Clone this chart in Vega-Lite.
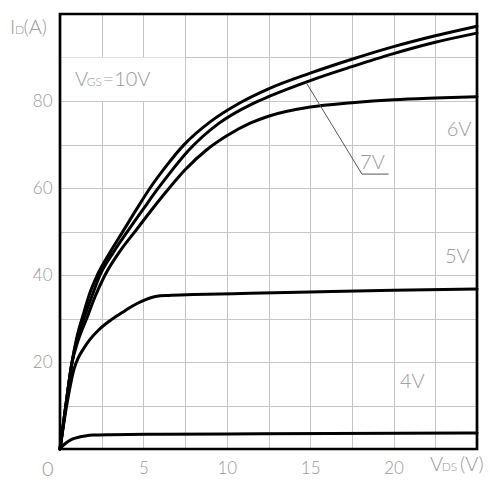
{
  "$schema": "https://vega.github.io/schema/vega-lite/v6.json",
  "width": 417,
  "height": 435,
  "autosize": {"type": "none"},
  "padding": {"left": 60, "top": 14, "right": 23, "bottom": 32},
  "background": "white",
  "config": {"view": {"stroke": null}},
  "datasets": {
    "curves": [
      {"g": "10V", "vds": 0, "id": 0}, {"g": "10V", "vds": 0.35, "id": 10}, {"g": "10V", "vds": 0.7, "id": 19.5}, {"g": "10V", "vds": 1.0, "id": 25.5}, {"g": "10V", "vds": 1.4, "id": 31}, {"g": "10V", "vds": 1.8, "id": 36}, {"g": "10V", "vds": 2.24, "id": 40}, {"g": "10V", "vds": 3.0, "id": 45.2}, {"g": "10V", "vds": 3.8, "id": 50.2}, {"g": "10V", "vds": 4.6, "id": 55.2}, {"g": "10V", "vds": 5.4, "id": 60}, {"g": "10V", "vds": 6.4, "id": 65.2}, {"g": "10V", "vds": 7.4, "id": 69.8}, {"g": "10V", "vds": 9.0, "id": 75.2}, {"g": "10V", "vds": 10.8, "id": 79.6}, {"g": "10V", "vds": 12.5, "id": 82.8}, {"g": "10V", "vds": 15, "id": 86.4}, {"g": "10V", "vds": 17.5, "id": 89.6}, {"g": "10V", "vds": 20, "id": 92.5}, {"g": "10V", "vds": 22.5, "id": 95.0}, {"g": "10V", "vds": 25, "id": 97.2},
      {"g": "7V", "vds": 0, "id": 0}, {"g": "7V", "vds": 0.35, "id": 10}, {"g": "7V", "vds": 0.7, "id": 19.5}, {"g": "7V", "vds": 1.0, "id": 25}, {"g": "7V", "vds": 1.5, "id": 30.8}, {"g": "7V", "vds": 1.9, "id": 35}, {"g": "7V", "vds": 2.4, "id": 40}, {"g": "7V", "vds": 3.2, "id": 45.2}, {"g": "7V", "vds": 4.1, "id": 50.3}, {"g": "7V", "vds": 5.0, "id": 55.2}, {"g": "7V", "vds": 5.8, "id": 59.5}, {"g": "7V", "vds": 6.7, "id": 64}, {"g": "7V", "vds": 7.7, "id": 68.6}, {"g": "7V", "vds": 9.5, "id": 74.8}, {"g": "7V", "vds": 11.5, "id": 79.3}, {"g": "7V", "vds": 12.5, "id": 81.0}, {"g": "7V", "vds": 15, "id": 84.7}, {"g": "7V", "vds": 17.5, "id": 87.9}, {"g": "7V", "vds": 20, "id": 90.9}, {"g": "7V", "vds": 22.5, "id": 93.5}, {"g": "7V", "vds": 25, "id": 95.6},
      {"g": "6V", "vds": 0, "id": 0}, {"g": "6V", "vds": 0.35, "id": 10}, {"g": "6V", "vds": 0.7, "id": 19.5}, {"g": "6V", "vds": 1.05, "id": 24.5}, {"g": "6V", "vds": 1.6, "id": 30}, {"g": "6V", "vds": 2.1, "id": 35}, {"g": "6V", "vds": 2.7, "id": 40}, {"g": "6V", "vds": 3.6, "id": 45.5}, {"g": "6V", "vds": 4.6, "id": 50.5}, {"g": "6V", "vds": 5.5, "id": 55}, {"g": "6V", "vds": 6.4, "id": 59.3}, {"g": "6V", "vds": 7.5, "id": 64.2}, {"g": "6V", "vds": 8.8, "id": 68.8}, {"g": "6V", "vds": 10, "id": 72}, {"g": "6V", "vds": 11.4, "id": 74.9}, {"g": "6V", "vds": 12.5, "id": 76.5}, {"g": "6V", "vds": 15, "id": 78.6}, {"g": "6V", "vds": 17.5, "id": 79.6}, {"g": "6V", "vds": 20, "id": 80.3}, {"g": "6V", "vds": 22.5, "id": 80.7}, {"g": "6V", "vds": 25, "id": 81.0},
      {"g": "5V", "vds": 0, "id": 0}, {"g": "5V", "vds": 0.4, "id": 10}, {"g": "5V", "vds": 0.85, "id": 18.5}, {"g": "5V", "vds": 1.1, "id": 21}, {"g": "5V", "vds": 1.4, "id": 23}, {"g": "5V", "vds": 1.8, "id": 25.2}, {"g": "5V", "vds": 2.3, "id": 27.3}, {"g": "5V", "vds": 3.0, "id": 29.5}, {"g": "5V", "vds": 3.7, "id": 31.3}, {"g": "5V", "vds": 4.4, "id": 33}, {"g": "5V", "vds": 5.1, "id": 34.3}, {"g": "5V", "vds": 5.8, "id": 35.1}, {"g": "5V", "vds": 6.5, "id": 35.3}, {"g": "5V", "vds": 8, "id": 35.5}, {"g": "5V", "vds": 11.4, "id": 35.8}, {"g": "5V", "vds": 15, "id": 36.1}, {"g": "5V", "vds": 20, "id": 36.5}, {"g": "5V", "vds": 25, "id": 36.8},
      {"g": "4V", "vds": 0, "id": 0}, {"g": "4V", "vds": 0.15, "id": 0.7}, {"g": "4V", "vds": 0.4, "id": 1.5}, {"g": "4V", "vds": 0.7, "id": 2.2}, {"g": "4V", "vds": 1.0, "id": 2.6}, {"g": "4V", "vds": 1.5, "id": 3.0}, {"g": "4V", "vds": 2.0, "id": 3.2}, {"g": "4V", "vds": 3, "id": 3.3}, {"g": "4V", "vds": 6, "id": 3.4}, {"g": "4V", "vds": 12, "id": 3.5}, {"g": "4V", "vds": 25, "id": 3.7}
    ],
    "bigText": [
      {"x": 0.9, "y": 83.4, "t": "V"}, {"x": 2.55, "y": 83.4, "t": "=10V"},
      {"x": -3.0, "y": 95.4, "t": "I"}, {"x": -2.19, "y": 95.4, "t": "(A)"},
      {"x": 22.18, "y": -5.0, "t": "V"}, {"x": 23.98, "y": -5.0, "t": "(V)"},
      {"x": -1.08, "y": -6.2, "t": "0"},
      {"x": 23.18, "y": 71.95, "t": "6V"},
      {"x": 17.99, "y": 64.3, "t": "7V"},
      {"x": 23.08, "y": 42.7, "t": "5V"},
      {"x": 20.38, "y": 13.95, "t": "4V"}
    ],
    "smallText": [
      {"x": 1.6, "y": 83.4, "t": "GS"},
      {"x": -2.7, "y": 95.4, "t": "D"},
      {"x": 22.88, "y": -5.0, "t": "DS"}
    ],
    "leader": [
      {"x": 14.75, "y": 84.3, "x2": 18.1, "y2": 63.2},
      {"x": 18.1, "y": 63.2, "x2": 19.7, "y2": 63.2}
    ],
    "box": [{"x": 0, "x2": 7.5, "y": 80, "y2": 90}],
    "frame": [{"x": 0, "x2": 25, "y": 0, "y2": 100}]
  },
  "layer": [
    {
      "data": {"name": "box"},
      "mark": {"type": "rect", "fill": "white", "strokeWidth": 0},
      "encoding": {
        "x": {"field": "x", "type": "quantitative", "scale": {"domain": [0, 25], "nice": false, "zero": false},
          "axis": {"values": [0, 2.5, 5, 7.5, 10, 12.5, 15, 17.5, 20, 22.5, 25], "grid": true, "gridColor": "#c4c4c4", "gridWidth": 1, "domain": false, "ticks": false, "tickSize": 0, "labelExpr": "(datum.value % 5 == 0 && datum.value > 0 && datum.value < 25) ? datum.label : ''", "labelFontSize": 17, "labelColor": "#999999", "labelFont": "Lato", "labelFontWeight": 300, "labelPadding": 11, "labelOverlap": false, "labelFlush": false, "title": null}},
        "x2": {"field": "x2"},
        "y": {"field": "y", "type": "quantitative", "scale": {"domain": [0, 100], "nice": false, "zero": false},
          "axis": {"values": [0, 10, 20, 30, 40, 50, 60, 70, 80, 90, 100], "grid": true, "gridColor": "#c4c4c4", "gridWidth": 1, "domain": false, "ticks": false, "tickSize": 0, "labelExpr": "(datum.value % 20 == 0 && datum.value > 0 && datum.value < 100) ? datum.label : ''", "labelFontSize": 17, "labelColor": "#999999", "labelFont": "Lato", "labelFontWeight": 300, "labelPadding": 8, "labelOverlap": false, "labelFlush": false, "title": null}},
        "y2": {"field": "y2"}
      }
    },
    {
      "data": {"name": "curves"},
      "mark": {"type": "line", "color": "black", "strokeWidth": 3, "interpolate": "monotone", "strokeCap": "round", "strokeJoin": "round"},
      "encoding": {
        "x": {"field": "vds", "type": "quantitative"},
        "y": {"field": "id", "type": "quantitative"},
        "detail": {"field": "g"},
        "order": {"field": "vds"}
      }
    },
    {
      "data": {"name": "leader"},
      "mark": {"type": "rule", "color": "#555555", "strokeWidth": 1},
      "encoding": {
        "x": {"field": "x", "type": "quantitative"},
        "y": {"field": "y", "type": "quantitative"},
        "x2": {"field": "x2"},
        "y2": {"field": "y2"}
      }
    },
    {
      "data": {"name": "bigText"},
      "mark": {"type": "text", "align": "left", "baseline": "alphabetic", "font": "Lato", "fontWeight": 300, "fontSize": 20, "color": "#999999"},
      "encoding": {
        "x": {"field": "x", "type": "quantitative"},
        "y": {"field": "y", "type": "quantitative"},
        "text": {"field": "t"}
      }
    },
    {
      "data": {"name": "smallText"},
      "mark": {"type": "text", "align": "left", "baseline": "alphabetic", "font": "Lato", "fontWeight": 300, "fontSize": 12, "color": "#999999"},
      "encoding": {
        "x": {"field": "x", "type": "quantitative"},
        "y": {"field": "y", "type": "quantitative"},
        "text": {"field": "t"}
      }
    },
    {
      "data": {"name": "frame"},
      "mark": {"type": "rect", "fillOpacity": 0, "stroke": "black", "strokeWidth": 2.7},
      "encoding": {
        "x": {"field": "x", "type": "quantitative"},
        "x2": {"field": "x2"},
        "y": {"field": "y", "type": "quantitative"},
        "y2": {"field": "y2"}
      }
    }
  ]
}
